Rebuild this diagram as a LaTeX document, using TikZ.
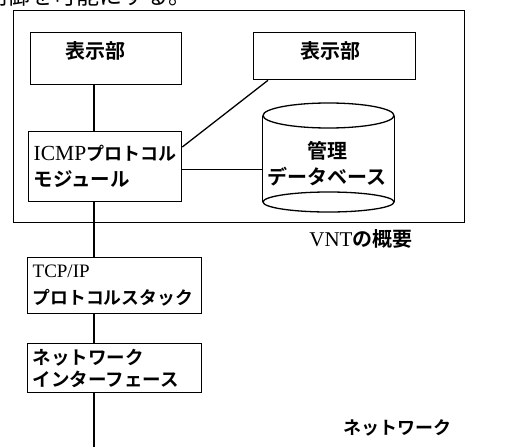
\documentclass[tikz,border=0pt]{standalone}
\usepackage{fontspec}
\setmainfont{Liberation Serif}
\newfontfamily\jpb{Noto Sans CJK JP Bold}
\newfontfamily\jpr{Noto Sans CJK JP}
\usetikzlibrary{calc}
\newcommand\jb[1]{{\jpb #1}}
\begin{document}
\begin{tikzpicture}[x=1pt,y=-1pt,line width=1.3pt,
  box/.style={draw,inner sep=0pt,anchor=north west},
  tbox/.style={box,inner xsep=5pt,align=left},
  lab/.style={inner sep=0pt,font=\fontsize{20}{26}\selectfont}]
\useasboundingbox (0,0) rectangle (509,447);
\begin{scope}
\clip (0,0) rectangle (509,447);
\node[inner sep=0pt,anchor=base east,font=\fontsize{23}{23}\selectfont\jpr] (top) at (192,5) {制御を可能にする。};
\end{scope}
% outer VNT frame
\node[box,minimum width=451pt,minimum height=212pt] (vnt) at (13,10) {};
\node[lab] (vntl) at (361,239) {\fontsize{21}{26}\selectfont VNT\jb{\fontsize{20}{26}\selectfont の概要}};
% display units
\node[box,minimum width=151pt,minimum height=52pt] (disp1) at (30,32) {};
\node[lab] (t1) at (95,51) {\jb{表示部}};
\node[box,minimum width=162pt,minimum height=47pt] (disp2) at (253,32) {};
\node[lab] (t2) at (330,51) {\jb{表示部}};
% ICMP module
\node[tbox,minimum width=153pt,minimum height=70pt,text width=143pt,
  font=\fontsize{21.5}{26}\selectfont] (icmp) at (28,131)
  {ICMP{\fontsize{18}{26}\selectfont\jpb プロトコル}\\{\fontsize{19.5}{26}\selectfont\jpb モジュール}};
% TCP/IP
\node[tbox,minimum width=174pt,minimum height=56pt,text width=164pt,
  font=\fontsize{19}{27}\selectfont] (tcp) at (27,257)
  {TCP/IP\\{\fontsize{17.8}{27}\selectfont\jpb プロトコルスタック}};
% network interface
\node[tbox,minimum width=174pt,minimum height=49pt,text width=164pt,
  font=\fontsize{18.5}{22}\selectfont\jpb] (nif) at (27,343)
  {ネットワーク\\インターフェース};
% database cylinder
\node[inner sep=0pt,minimum width=131pt,minimum height=109pt] (db) at (328.5,158.5) {};
\draw (db.west |- 0,115.5) -- (db.west |- 0,202);
\draw (db.east |- 0,115.5) -- (db.east |- 0,202);
\draw (db.center |- 0,115.5) ellipse [x radius=65.5, y radius=12.5];
\draw (db.center |- 0,202) ellipse [x radius=65.5, y radius=10];
\node[lab,align=center] (dbt) at (327,164) {\jb{管理}\\\jb{データベース}};
% network label
\node[inner sep=0pt,font=\fontsize{18}{18}\selectfont\jpb] (net) at (397,428) {ネットワーク};
% connectors
\coordinate (sp) at (94,0);
\coordinate (bot) at (94,447);
\draw (sp |- disp1.south) -- (sp |- icmp.north);
\draw (sp |- icmp.south) -- (sp |- tcp.north);
\draw (sp |- tcp.south) -- (sp |- nif.north);
\draw (sp |- nif.south) -- (bot);
\coordinate (ia) at ($(icmp.north east)+(0,16)$);
\coordinate (da) at ($(disp2.south west)+(15,0)$);
\draw (ia) -- (da);
\coordinate (ih) at ($(icmp.south east)+(0,-33)$);
\draw (ih) -- (ih -| db.west);
\end{tikzpicture}
\end{document}
